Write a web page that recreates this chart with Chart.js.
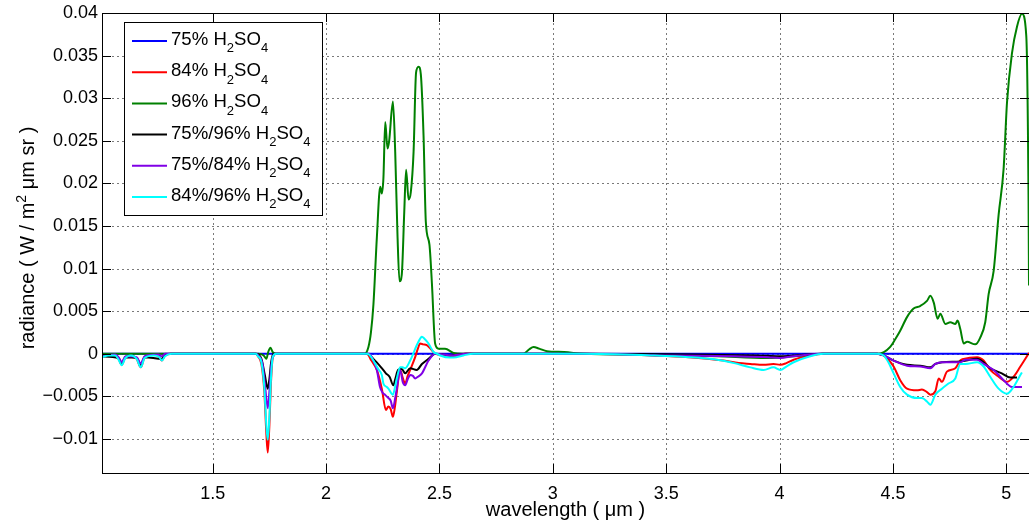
<!DOCTYPE html>
<html>
<head>
<meta charset="utf-8">
<title>H2SO4 radiance</title>
<script src="https://cdn.jsdelivr.net/npm/chart.js@4.4.0/dist/chart.umd.min.js"></script>
<style>
  html, body { margin: 0; padding: 0; background: #fff; }
</style>
</head>
<body>
<canvas id="radianceChart" width="1029" height="525"></canvas>
<script>
// wavelength (um) / radiance (W / m2 um sr)

const wl75 = [1.012, 3.0, 5.1];
const rad75 = [0, 0, 0];

const wl84 = [1.012, 1.05, 1.085, 1.099, 1.115, 1.14, 1.165, 1.183, 1.2, 1.24,
  1.265, 1.276, 1.29, 1.32, 1.69, 1.70, 1.715, 1.728, 1.737, 1.743,
  1.75, 1.757, 1.765, 1.78, 2.18, 2.20, 2.224, 2.246, 2.264, 2.275,
  2.285, 2.295, 2.304, 2.312, 2.327, 2.338, 2.349, 2.36, 2.371, 2.393,
  2.405, 2.415, 2.428, 2.444, 2.46, 2.481, 2.52, 2.56, 2.61, 3.135,
  3.43, 3.6, 3.753, 3.82, 3.871, 3.93, 3.973, 4.003, 4.03, 4.062,
  4.135, 4.194, 4.43, 4.459, 4.48, 4.503, 4.532, 4.562, 4.606, 4.628,
  4.65, 4.665, 4.687, 4.702, 4.716, 4.738, 4.775, 4.797, 4.812, 4.871,
  4.9, 4.929, 4.966, 5.003, 5.032, 5.062, 5.1];
const rad84 = [-0.0004, -0.0001, -0.0006, -0.0013, -0.0004, -0.0002, -0.0006, -0.0016, -0.0004, -0.0001,
  -0.0004, -0.0008, -0.0002, 0, 0, -0.0003, -0.0012, -0.0045, -0.0095, -0.0116,
  -0.0085, -0.0035, -0.0005, 0, 0, -0.0008, -0.0019, -0.0041, -0.0066, -0.0062,
  -0.0065, -0.0074, -0.0062, -0.0045, -0.0019, -0.0028, -0.0035, -0.0026, -0.0019, -0.0004,
  0.0006, 0.0012, 0.0011, 0.001, 0.0006, 0, -0.0002, -0.0003, 0, 0,
  -0.0002, -0.0004, -0.0008, -0.0011, -0.0012, -0.0013, -0.0012, -0.0013, -0.0011, -0.0007,
  -0.0002, 0, 0, -0.0002, -0.0007, -0.0015, -0.0031, -0.0041, -0.0043, -0.0042,
  -0.0045, -0.0048, -0.0044, -0.0029, -0.0033, -0.0021, -0.0017, -0.0008, -0.0006, -0.0004,
  -0.0008, -0.0019, -0.0027, -0.0033, -0.0027, -0.0015, 0.0001];

const wl96 = [1.012, 1.70, 1.725, 1.737, 1.745, 1.755, 1.765, 1.78,
  2.17, 2.187, 2.198, 2.209, 2.224, 2.239, 2.246, 2.253, 2.261, 2.271,
  2.278, 2.295, 2.305, 2.315, 2.324, 2.334, 2.345, 2.353, 2.364, 2.374,
  2.386, 2.397, 2.408, 2.418, 2.430, 2.440, 2.456, 2.467, 2.481, 2.496,
  2.525, 2.562, 2.606, 2.87, 2.895, 2.915, 2.94, 2.974, 3.05, 3.135,
  3.4, 3.724, 3.944, 4.1, 4.194, 4.43, 4.46, 4.488, 4.51, 4.532,
  4.562, 4.591, 4.62, 4.65, 4.665, 4.68, 4.697, 4.709, 4.731, 4.753,
  4.775, 4.785, 4.797, 4.812, 4.827, 4.863, 4.885, 4.907, 4.922, 4.944,
  4.966, 4.988, 5.003, 5.025, 5.047, 5.069, 5.088, 5.098, 5.1];
const rad96 = [0, 0, -0.0002, -0.0006, 0.0002, 0.0007, 0.0002, 0,
  0, 0.0008, 0.0025, 0.0058, 0.0136, 0.0196, 0.0188, 0.0206, 0.0272, 0.0241,
  0.0249, 0.0296, 0.0237, 0.0140, 0.0085, 0.0093, 0.0167, 0.0216, 0.0181, 0.0190,
  0.0237, 0.0330, 0.0337, 0.0328, 0.0256, 0.0155, 0.0128, 0.0082, 0.0012, 0.0006,
  0.0006, 0.0001, 0, 0, 0.0005, 0.0008, 0.0006, 0.0003, 0.0002, 0,
  -0.0001, -0.0003, -0.0005, -0.0002, 0, 0, 0.0002, 0.0008, 0.0017, 0.0027,
  0.0043, 0.0053, 0.0056, 0.0062, 0.0068, 0.006, 0.0041, 0.0047, 0.0035, 0.0037,
  0.0035, 0.0039, 0.0029, 0.0012, 0.0014, 0.0011, 0.0019, 0.0037, 0.007, 0.0097,
  0.0163, 0.0217, 0.0295, 0.0353, 0.0384, 0.0399, 0.0373, 0.0179, 0.008];

const wl75_96 = [1.012, 1.085, 1.099, 1.115, 1.165, 1.183, 1.2, 1.276, 1.29, 1.32,
  1.69, 1.715, 1.73, 1.743, 1.75, 1.758, 1.768, 2.18, 2.209, 2.246,
  2.264, 2.28, 2.297, 2.305, 2.318, 2.334, 2.349, 2.371, 2.40, 2.423,
  2.452, 2.481, 2.55, 2.62, 3.135, 3.6, 3.9, 4.0, 4.19, 4.43,
  4.459, 4.503, 4.562, 4.62, 4.665, 4.687, 4.716, 4.797, 4.871, 4.9,
  4.929, 4.98, 5.018, 5.047];
const rad75_96 = [-0.0003, -0.0005, -0.0011, -0.0004, -0.0005, -0.0013, -0.0004, -0.0006, -0.0001, 0,
  0, -0.0006, -0.0025, -0.0041, -0.003, -0.001, 0, 0, -0.0006, -0.0017,
  -0.0023, -0.0027, -0.0037, -0.003, -0.0019, -0.0018, -0.0023, -0.0017, -0.0019, -0.0012,
  -0.0006, 0, -0.0002, 0, 0, -0.0001, -0.0002, -0.0003, 0, 0,
  -0.0002, -0.0008, -0.0013, -0.0014, -0.0016, -0.0012, -0.001, -0.0009, -0.0006, -0.001,
  -0.0017, -0.0023, -0.0028, -0.0028];

const wl75_84 = [1.012, 1.07, 1.085, 1.099, 1.115, 1.165, 1.183, 1.2, 1.26, 1.276,
  1.29, 1.69, 1.705, 1.72, 1.732, 1.743, 1.75, 1.758, 1.768, 1.78,
  2.19, 2.205, 2.224, 2.238, 2.25, 2.26, 2.275, 2.285, 2.295, 2.305,
  2.312, 2.327, 2.338, 2.349, 2.36, 2.371, 2.383, 2.393, 2.405, 2.423,
  2.452, 2.481, 2.52, 2.56, 2.62, 3.135, 3.5, 3.8, 3.95, 4.0,
  4.06, 4.19, 4.43, 4.459, 4.503, 4.562, 4.62, 4.665, 4.687, 4.716,
  4.797, 4.82, 4.871, 4.9, 4.944, 4.988, 5.025, 5.069];
const rad75_84 = [-0.0002, -0.0001, -0.0004, -0.001, -0.0003, -0.0004, -0.00115, -0.0003, -0.0001, -0.0003,
  0, 0, -0.0003, -0.0012, -0.004, -0.0064, -0.0045, -0.0015, -0.0002, 0,
  0, -0.0006, -0.0019, -0.0039, -0.0046, -0.0048, -0.0052, -0.0055, -0.0064, -0.0052,
  -0.0041, -0.0019, -0.0033, -0.0037, -0.003, -0.0025, -0.0026, -0.0029, -0.0027, -0.0023,
  -0.0008, 0, -0.0001, -0.0002, 0, 0, -0.0002, -0.0003, -0.0004, -0.0005,
  -0.0003, 0, 0, -0.0002, -0.0008, -0.0014, -0.0015, -0.0017, -0.0012, -0.001,
  -0.001, -0.0007, -0.0007, -0.0012, -0.0019, -0.0031, -0.0039, -0.0039];

const wl84_96 = [1.012, 1.04, 1.07, 1.085, 1.099, 1.115, 1.14, 1.165, 1.183, 1.2,
  1.24, 1.265, 1.276, 1.29, 1.32, 1.69, 1.70, 1.715, 1.728, 1.737,
  1.743, 1.75, 1.757, 1.765, 1.78, 2.18, 2.194, 2.209, 2.23, 2.246,
  2.253, 2.268, 2.275, 2.295, 2.305, 2.312, 2.327, 2.338, 2.349, 2.371,
  2.386, 2.40, 2.418, 2.423, 2.433, 2.452, 2.474, 2.489, 2.503, 2.547,
  2.575, 2.606, 2.65, 3.135, 3.43, 3.6, 3.724, 3.8, 3.871, 3.93,
  3.973, 4.003, 4.03, 4.062, 4.135, 4.194, 4.43, 4.459, 4.48, 4.503,
  4.532, 4.562, 4.606, 4.628, 4.65, 4.665, 4.687, 4.716, 4.745, 4.775,
  4.797, 4.82, 4.871, 4.9, 4.929, 4.966, 5.003, 5.032, 5.062, 5.069];
const rad84_96 = [-0.0004, -0.0002, -0.0002, -0.0007, -0.00135, -0.0005, -0.0002, -0.0006, -0.0016, -0.0005,
  -0.0002, -0.0004, -0.0008, -0.0003, 0, 0, -0.0003, -0.001, -0.004, -0.0085,
  -0.0101, -0.0075, -0.003, -0.0004, 0, 0, -0.0002, -0.0008, -0.0018, -0.0025,
  -0.0035, -0.0039, -0.0041, -0.0048, -0.0038, -0.0029, -0.0016, -0.0016, -0.0017, -0.0008,
  0.0001, 0.001, 0.0019, 0.002, 0.0018, 0.0012, 0.0002, 0, -0.0002, -0.00045,
  -0.0004, -0.0002, 0, 0, -0.0002, -0.0004, -0.0007, -0.0011, -0.0016, -0.0019,
  -0.0016, -0.0019, -0.0015, -0.001, -0.0003, 0, 0, -0.0002, -0.001, -0.0023,
  -0.0039, -0.0048, -0.0052, -0.0052, -0.0056, -0.006, -0.0048, -0.0041, -0.0035, -0.0029,
  -0.0012, -0.0012, -0.001, -0.0015, -0.0027, -0.0041, -0.0047, -0.0039, -0.0025, -0.0022];

const seriesNames = ["75% H2SO4", "84% H2SO4", "96% H2SO4", "75%/96% H2SO4", "75%/84% H2SO4", "84%/96% H2SO4"];
const seriesColors = ["#0000ff", "#ff0000", "#008000", "#000000", "#8000e6", "#00ffff"];

const xTickValues = [1.5, 2, 2.5, 3, 3.5, 4, 4.5, 5];
const xTickLabels = ["1.5", "2", "2.5", "3", "3.5", "4", "4.5", "5"];
const yTickValues = [-0.01, -0.005, 0, 0.005, 0.01, 0.015, 0.02, 0.025, 0.03, 0.035, 0.04];
const yTickLabels = ["\u22120.01", "\u22120.005", "0", "0.005", "0.01", "0.015", "0.02", "0.025", "0.03", "0.035", "0.04"];

const FONT = "'Liberation Sans', Arial, Helvetica, sans-serif";

function toPoints(xs, ys) {
  return xs.map((x, i) => ({ x: x, y: ys[i] }));
}

// split "H2SO4" style labels: a digit right after a capital letter is a subscript
function labelParts(text) {
  const parts = [];
  for (let i = 0; i < text.length; i++) {
    const ch = text[i];
    const sub = /\d/.test(ch) && i > 0 && /[A-Z]/.test(text[i - 1]);
    const last = parts[parts.length - 1];
    if (last && last.sub === sub) last.t += ch;
    else parts.push({ t: ch, sub: sub });
  }
  return parts;
}

function drawParts(ctx, parts, x, y, size, align) {
  const small = Math.round(size * 0.72);
  const widths = parts.map((p) => {
    ctx.font = (p.sub || p.sup ? small : size) + "px " + FONT;
    return ctx.measureText(p.t).width;
  });
  let cx = align === "center" ? x - widths.reduce((a, b) => a + b, 0) / 2 : x;
  parts.forEach((p, i) => {
    ctx.font = (p.sub || p.sup ? small : size) + "px " + FONT;
    const dy = p.sub ? size * 0.4 : p.sup ? -size * 0.42 : 0;
    ctx.fillText(p.t, cx, y + dy);
    cx += widths[i];
  });
}

// dotted grid, drawn before the lines so they sit on top
const dottedGrid = {
  id: "dottedGrid",
  beforeDatasetsDraw(chart) {
    const { ctx, chartArea: a } = chart;
    const xs = chart.scales.x;
    const ys = chart.scales.y;
    ctx.save();
    ctx.strokeStyle = "#7a7a7a";
    ctx.lineWidth = 1;
    ctx.setLineDash([2, 3]);
    ctx.beginPath();
    xTickValues.forEach((v) => {
      const px = Math.round(xs.getPixelForValue(v)) + 0.5;
      ctx.moveTo(px, Math.round(a.top));
      ctx.lineTo(px, Math.round(a.bottom));
    });
    yTickValues.forEach((v) => {
      const py = Math.round(ys.getPixelForValue(v)) + 0.5;
      ctx.moveTo(Math.round(a.left), py);
      ctx.lineTo(Math.round(a.right), py);
    });
    ctx.stroke();
    ctx.restore();
  }
};

// frame, inward ticks, axis titles and the boxed legend (matlab look)
const matlabAxes = {
  id: "matlabAxes",
  afterDraw(chart) {
    const { ctx, chartArea: a } = chart;
    const xs = chart.scales.x;
    const ys = chart.scales.y;
    ctx.save();
    ctx.strokeStyle = "#000";
    ctx.lineWidth = 1;
    ctx.strokeRect(Math.round(a.left) + 0.5, Math.round(a.top) + 0.5, Math.round(a.right - a.left), Math.round(a.bottom - a.top));

    ctx.beginPath();
    xTickValues.forEach((v) => {
      const px = Math.round(xs.getPixelForValue(v)) + 0.5;
      ctx.moveTo(px, a.bottom); ctx.lineTo(px, a.bottom - 9);
      ctx.moveTo(px, a.top); ctx.lineTo(px, a.top + 9);
    });
    yTickValues.forEach((v) => {
      const py = Math.round(ys.getPixelForValue(v)) + 0.5;
      ctx.moveTo(a.left, py); ctx.lineTo(a.left + 9, py);
      ctx.moveTo(a.right, py); ctx.lineTo(a.right - 9, py);
    });
    ctx.stroke();

    // axis titles
    ctx.fillStyle = "#000";
    ctx.textBaseline = "middle";
    ctx.textAlign = "center";
    ctx.font = "20px " + FONT;
    ctx.fillText("wavelength ( \u03bcm )", (a.left + a.right) / 2, 510);

    ctx.save();
    ctx.translate(34, 238);
    ctx.rotate(-Math.PI / 2);
    ctx.textAlign = "left";
    ctx.textBaseline = "alphabetic";
    drawParts(ctx, [{ t: "radiance ( W / m" }, { t: "2", sup: true }, { t: " \u03bcm sr )" }], 0, 0, 20, "center");
    ctx.restore();

    // legend
    const box = { left: 124.5, top: 22.5, width: 198, height: 193 };
    ctx.fillStyle = "#fff";
    ctx.fillRect(box.left, box.top, box.width, box.height);
    ctx.strokeStyle = "#000";
    ctx.strokeRect(box.left, box.top, box.width, box.height);
    ctx.textAlign = "left";
    ctx.textBaseline = "alphabetic";
    seriesNames.forEach((name, i) => {
      const ly = 41 + i * 31.2;
      ctx.strokeStyle = seriesColors[i];
      ctx.lineWidth = 2;
      ctx.beginPath();
      ctx.moveTo(132, ly);
      ctx.lineTo(167, ly);
      ctx.stroke();
      ctx.fillStyle = "#000";
      drawParts(ctx, labelParts(name), 171, ly + 4, 18.6, "left");
    });
    ctx.restore();
  }
};

const wlSets = [wl75, wl84, wl96, wl75_96, wl75_84, wl84_96];
const radSets = [rad75, rad84, rad96, rad75_96, rad75_84, rad84_96];

const datasets = seriesNames.map((name, i) => ({
  label: name,
  data: toPoints(wlSets[i], radSets[i]),
  borderColor: seriesColors[i],
  backgroundColor: seriesColors[i],
  borderWidth: 2,
  pointRadius: 0,
  fill: false,
  cubicInterpolationMode: "monotone",
  order: seriesNames.length - i
}));

const ctx = document.getElementById("radianceChart");
new Chart(ctx, {
  type: "line",
  data: { datasets },
  options: {
    responsive: false,
    animation: false,
    layout: { padding: { left: 0, top: 10, right: 0, bottom: 0 } },
    plugins: {
      legend: { display: false },
      tooltip: { enabled: false }
    },
    scales: {
      x: {
        type: "linear",
        min: 1.012,
        max: 5.1,
        afterBuildTicks: (scale) => { scale.ticks = xTickValues.map((v) => ({ value: v })); },
        afterFit: (scale) => { scale.height = 52; },
        ticks: {
          color: "#000",
          font: { family: FONT, size: 18, lineHeight: 1 },
          padding: 12,
          maxRotation: 0,
          callback: (v) => xTickLabels[xTickValues.indexOf(v)]
        },
        grid: { display: false, drawTicks: false },
        border: { display: false }
      },
      y: {
        type: "linear",
        min: -0.014,
        max: 0.04,
        afterBuildTicks: (scale) => { scale.ticks = yTickValues.map((v) => ({ value: v })); },
        afterFit: (scale) => { scale.width = 102; },
        ticks: {
          color: "#000",
          font: { family: FONT, size: 18, lineHeight: 1 },
          padding: 4,
          callback: (v) => yTickLabels[yTickValues.indexOf(v)]
        },
        grid: { display: false, drawTicks: false },
        border: { display: false }
      }
    }
  },
  plugins: [dottedGrid, matlabAxes]
});
</script>
</body>
</html>
